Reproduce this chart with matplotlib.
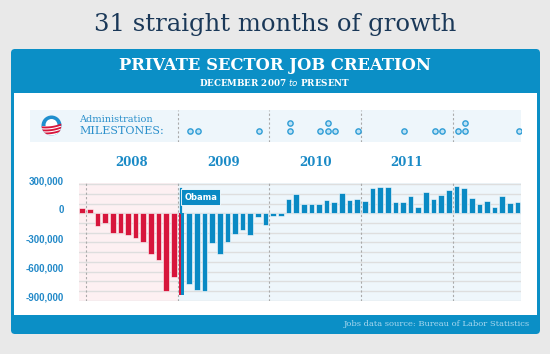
import numpy as np
import pandas as pd
import matplotlib
matplotlib.use("Agg")
import matplotlib.pyplot as plt
from matplotlib.patches import FancyBboxPatch, Rectangle, Circle, Polygon
from matplotlib.transforms import ScaledTranslation, blended_transform_factory

# meses de dic 2007 a sep 2012
meses = pd.date_range("2007-12-01", "2012-09-01", freq="MS").strftime("%Y-%m").tolist()

# empleos privados creados por mes
empleos = [50000, 40000, -131000, -104000, -208000, -208000, -225000, -253000,
           -294000, -415000, -478000, -796000, -657000, -840000,
           -725000, -785000, -802000, -310000, -420000, -295000, -218000,
           -175000, -225000, -42000, -118000,
           -32000, -25000, 145000, 198000, 90000, 97000, 97000, 138000,
           118000, 204000, 138000, 145000,
           128000, 263000, 273000, 273000, 114000, 111000, 180000, 62000,
           221000, 149000, 190000, 239000,
           284000, 263000, 152000, 97000, 121000, 69000, 173000, 104000, 111000]

# hitos de la administracion (mes de cada punto)
hitos = ["2009-02", "2009-03", "2009-11", "2010-03", "2010-03", "2010-07",
         "2010-08", "2010-08", "2010-09", "2010-12", "2011-06", "2011-10",
         "2011-11", "2012-01", "2012-02", "2012-02", "2012-09"]

anios = ["2008", "2009", "2010", "2011"]
marcas_y = [300000, 0, -300000, -600000, -900000]

rojo = "#d7163c"
azul = "#0a8ac4"
azul_claro = "#eef6fb"

fig = plt.figure(figsize=(5.5, 3.54), dpi=100)
fig.patch.set_facecolor("#e9e9e9")

# fondo en coordenadas de pixel
fondo = fig.add_axes([0, 0, 1, 1])
fondo.set_xlim(0, 550)
fondo.set_ylim(354, 0)
fondo.axis("off")
fondo.add_patch(FancyBboxPatch((11, 49), 529, 285, boxstyle="round,pad=0,rounding_size=4",
                               fc="#0b8fc6", ec="none"))
fondo.add_patch(Rectangle((14, 93), 523, 222, fc="white", ec="none"))
fondo.add_patch(Rectangle((30, 110), 491, 32, fc=azul_claro, ec="none"))

fondo.text(275, 24, "31 straight months of growth", ha="center", va="center",
           family="DejaVu Serif", fontsize=17.5, color="#1a3858")
fondo.text(275, 66, "PRIVATE SECTOR JOB CREATION", ha="center", va="center",
           family="DejaVu Serif", fontweight="bold", fontsize=11.8, color="white")
fondo.text(275, 82, r"DECEMBER 2007 $\it{to}$ PRESENT", ha="center", va="center",
           family="DejaVu Serif", fontweight="bold", fontsize=6.3, color="white")
fondo.text(530, 324, "Jobs data source: Bureau of Labor Statistics", ha="right", va="center",
           family="DejaVu Serif", fontsize=6.0, color="#a9d8ef")
fondo.text(79, 119, "Administration", ha="left", va="center",
           family="DejaVu Serif", fontsize=7.0, color="#2a8fcb")
fondo.text(79, 131.5, "MILESTONES:", ha="left", va="center",
           family="DejaVu Serif", fontsize=8.0, color="#2a8fcb")

# logo
cx, cy, r = 51.5, 125.5, 10
circulo = Circle((cx, cy), r, fc="#1f8fce", ec="none")
fondo.add_patch(circulo)
fondo.add_patch(Circle((cx, cy - 0.5), 6, fc="white", ec="none"))
blanco = Rectangle((cx - r, cy + 0.5), 2 * r, r, fc="white", ec="none")
fondo.add_patch(blanco)
blanco.set_clip_path(circulo)
xs = np.linspace(cx - r, cx + r, 20)
for k in range(3):
    arriba = cy + 1.8 + 3.0 * k - 0.012 * (xs - cx + r) ** 2 + 0.1 * (xs - cx)
    pts = np.vstack([np.column_stack([xs, arriba]),
                     np.column_stack([xs[::-1], arriba[::-1] + 1.9])])
    franja = Polygon(pts, fc=rojo, ec="none")
    fondo.add_patch(franja)
    franja.set_clip_path(circulo)

# grafico principal
ax = fig.add_axes([79 / 550, 1 - 301.4 / 354, 442 / 550, 118.7 / 354])
ax.set_facecolor("none")
ax.set_xlim(-0.42, 57.45)
ax.set_ylim(-906000, 314000)
for s in ax.spines.values():
    s.set_visible(False)

x = np.arange(len(meses))
i_obama = meses.index("2009-01")
ax.axvspan(-0.42, i_obama - 0.5, color="#fdf0f2", zorder=0)
ax.axvspan(i_obama - 0.5, 57.45, color=azul_claro, zorder=0)
for v in range(-900000, 300001, 100000):
    ax.axhline(v, color="#dedede", lw=1, zorder=1)
cortes = [meses.index(a + "-01") - 0.5 for a in ["2008", "2009", "2010", "2011", "2012"]]
for c in cortes:
    ax.axvline(c, color="#aaaaaa", ls=(0, (2, 2)), lw=0.8, zorder=2)

ancho = 0.74
emp = np.array(empleos)
ax.bar(x[:i_obama], emp[:i_obama], width=ancho, color=rojo, edgecolor="white", lw=0.4, zorder=3)
ax.bar(x[i_obama + 1:], emp[i_obama + 1:], width=ancho, color=azul, edgecolor="white", lw=0.4, zorder=3)
# enero 2009 mitad y mitad
izq = i_obama - ancho / 2
ax.bar(izq, emp[i_obama], width=0.32, align="edge", color=rojo, edgecolor="none", zorder=3)
ax.bar(izq + 0.32, emp[i_obama], width=ancho - 0.32, align="edge", color=azul, edgecolor="none", zorder=3)

# banderita de Obama
px = izq + 0.32
ax.plot([px, px], [0, 250000], color=azul, lw=1.6, zorder=4)
ax.add_patch(Rectangle((px, 85000), 5.1, 165000, fc=azul, ec="white", lw=0.6, zorder=5))
ax.text(px + 2.55, 167000, "Obama", ha="center", va="center", color="white",
        fontsize=6, fontweight="bold", zorder=6)

ax.set_xticks([])
ax.set_yticks(marcas_y)
ax.set_yticklabels([f"{v:,}" for v in marcas_y])
ax.tick_params(axis="y", length=0, pad=11, labelsize=7.0, labelcolor="#2289c8")
for t in ax.get_yticklabels():
    t.set_fontweight("bold")
    t.set_family("Liberation Sans")
    t.set_transform(t.get_transform() + ScaledTranslation(0, 0.04, fig.dpi_scale_trans))

trans = blended_transform_factory(ax.transData, ax.transAxes)
for a in anios:
    centro = meses.index(a + "-01") + 5.5
    ax.text(centro, 1.174, a, transform=trans, ha="center", va="center",
            family="DejaVu Serif", fontweight="bold", fontsize=8.5, color="#1a8ac6")

# banda de hitos
bax = fig.add_axes([79 / 550, 1 - 142 / 354, 442 / 550, 32 / 354])
bax.set_xlim(-0.42, 57.45)
bax.set_ylim(0, 1)
bax.axis("off")
for c in cortes[1:]:
    bax.axvline(c, color="#aaaaaa", ls=(0, (2, 2)), lw=0.8)
contados = {}
for h in hitos:
    n = contados.get(h, 0)
    contados[h] = n + 1
    bax.plot(meses.index(h) + 0.15, 0.35 + 0.25 * n, "o", ms=3.8,
             mfc="#bfe2f5", mec="#2f9dd6", mew=1)

fig.savefig("out.png", dpi=100, facecolor=fig.get_facecolor())
